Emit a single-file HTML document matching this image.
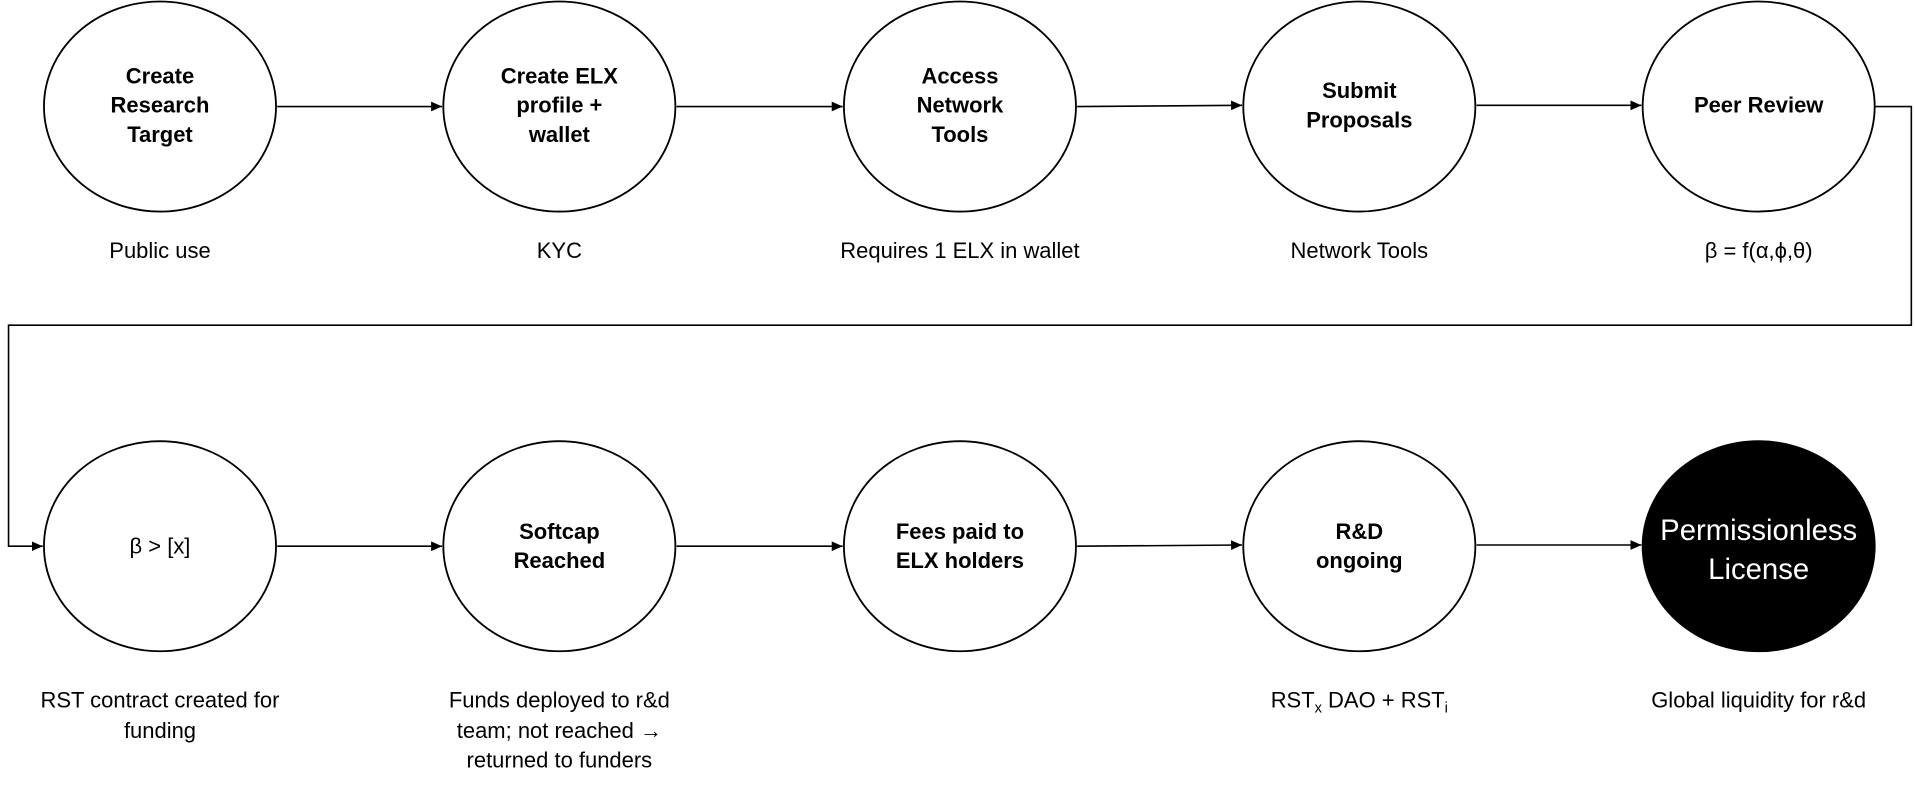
<!DOCTYPE html>
<html><head><meta charset="utf-8"><style>
html,body{margin:0;padding:0;background:#fff;}
svg{display:block;}
text{font-family:"Liberation Sans",sans-serif;fill:#000;}
.b{font-weight:bold;font-size:18px;}
.n{font-size:18px;}
</style></head><body>
<svg width="1915" height="792" viewBox="0 0 1568 648" xmlns="http://www.w3.org/2000/svg">
<defs><marker id="a" markerWidth="10" markerHeight="10" refX="9" refY="5" orient="auto" markerUnits="userSpaceOnUse"><path d="M0,1 L9,5 L0,9 z" fill="#000"/></marker></defs>
<g fill="#fff" stroke="#000" stroke-width="1.5">
<ellipse cx="131" cy="87" rx="95" ry="86"/>
<ellipse cx="458" cy="87" rx="95" ry="86"/>
<ellipse cx="786" cy="87" rx="95" ry="86"/>
<ellipse cx="1113" cy="87" rx="95" ry="86"/>
<ellipse cx="1440" cy="87" rx="95" ry="86"/>
<ellipse cx="131" cy="447" rx="95" ry="86"/>
<ellipse cx="458" cy="447" rx="95" ry="86"/>
<ellipse cx="786" cy="447" rx="95" ry="86"/>
<ellipse cx="1113" cy="447" rx="95" ry="86"/>
<ellipse cx="1440" cy="447" rx="95" ry="86" fill="#000"/>
</g>
<g stroke="#000" stroke-width="1.3" fill="none" marker-end="url(#a)">
<line x1="227" y1="87" x2="362" y2="87"/>
<line x1="554" y1="87" x2="690" y2="87"/>
<line x1="882" y1="87" x2="1017" y2="86"/>
<line x1="1209" y1="86" x2="1344" y2="86"/>
<polyline points="1535,87 1565,87 1565,266 7,266 7,447 35,447"/>
<line x1="227" y1="447" x2="362" y2="447"/>
<line x1="554" y1="447" x2="690" y2="447"/>
<line x1="882" y1="447" x2="1017" y2="446"/>
<line x1="1209" y1="446" x2="1344" y2="446"/>
</g>
<g text-anchor="middle">
<text class="b" x="131" y="68">Create</text><text class="b" x="131" y="92">Research</text><text class="b" x="131" y="116">Target</text>
<text class="b" x="458" y="68">Create ELX</text><text class="b" x="458" y="92">profile +</text><text class="b" x="458" y="116">wallet</text>
<text class="b" x="786" y="68">Access</text><text class="b" x="786" y="92">Network</text><text class="b" x="786" y="116">Tools</text>
<text class="b" x="1113" y="80">Submit</text><text class="b" x="1113" y="104">Proposals</text>
<text class="b" x="1440" y="92">Peer Review</text>
<text class="n" x="131" y="211">Public use</text>
<text class="n" x="458" y="211">KYC</text>
<text class="n" x="786" y="211">Requires 1 ELX in wallet</text>
<text class="n" x="1113" y="211">Network Tools</text>
<text class="n" x="1440" y="211">β = f(α,ϕ,θ)</text>
<text class="n" x="131" y="453">β &gt; [x]</text>
<text class="b" x="458" y="441">Softcap</text><text class="b" x="458" y="465">Reached</text>
<text class="b" x="786" y="441">Fees paid to</text><text class="b" x="786" y="465">ELX holders</text>
<text class="b" x="1113" y="441">R&amp;D</text><text class="b" x="1113" y="465">ongoing</text>
<text x="1440" y="442" font-size="24" style="fill:#fff">Permissionless</text>
<text x="1440" y="474" font-size="24" style="fill:#fff">License</text>
<text class="n" x="131" y="579">RST contract created for</text><text class="n" x="131" y="604">funding</text>
<text class="n" x="458" y="579">Funds deployed to r&amp;d</text><text class="n" x="458" y="604">team; not reached →</text><text class="n" x="458" y="628">returned to funders</text>
<text class="n" x="1113" y="579">RST<tspan font-size="12" dy="4">x</tspan><tspan dy="-4"> DAO + RST</tspan><tspan font-size="12" dy="4">i</tspan></text>
<text class="n" x="1440" y="579">Global liquidity for r&amp;d</text>
</g>
</svg>
</body></html>
